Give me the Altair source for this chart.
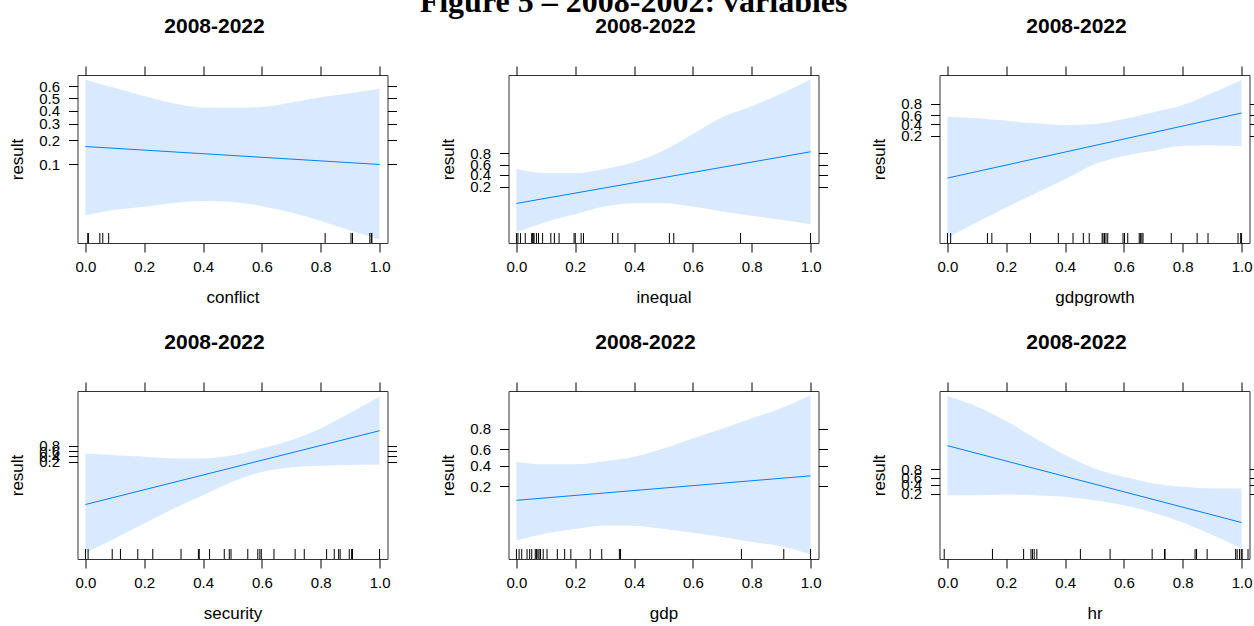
import math
import pandas as pd
import altair as alt

# ---------------- data ----------------
x_band = [0.0, 0.1, 0.2, 0.3, 0.4, 0.5, 0.6, 0.7, 0.8, 0.9, 1.0]
x_fit = [0.0, 1.0]
x_ticks = [0.0, 0.2, 0.4, 0.6, 0.8, 1.0]

conflict_lower = [0.020, 0.024, 0.0266, 0.030, 0.032, 0.031, 0.027, 0.022, 0.0166, 0.0122, 0.0091]
conflict_upper = [0.65, 0.585, 0.52, 0.458, 0.426, 0.423, 0.43, 0.467, 0.51, 0.544, 0.58]
conflict_fit = [0.168, 0.100]
conflict_rug = [0.008, 0.010, 0.049, 0.059, 0.079, 0.815, 0.903, 0.908, 0.967, 0.972, 0.974]

inequal_lower = [0.0058, 0.0138, 0.0258, 0.047, 0.061, 0.061, 0.047, 0.032, 0.0225, 0.0163, 0.0114]
inequal_upper = [0.52, 0.435, 0.435, 0.52, 0.65, 0.83, 0.95, 0.987, 0.9946, 0.9981, 0.9994]
inequal_fit = [0.060, 0.816]
inequal_rug = [0.0, 0.005, 0.014, 0.03, 0.052, 0.054, 0.057, 0.060, 0.068, 0.075, 0.089, 0.117,
               0.129, 0.145, 0.196, 0.200, 0.220, 0.228, 0.327, 0.345, 0.520, 0.535, 0.762, 1.0]

gdpgrowth_lower = [3.7e-5, 1.4e-4, 5.1e-4, 0.00174, 0.0058, 0.021, 0.042, 0.064, 0.095, 0.10, 0.091]
gdpgrowth_upper = [0.565, 0.53, 0.478, 0.423, 0.387, 0.408, 0.515, 0.655, 0.78, 0.91, 0.969]
gdpgrowth_fit = [0.0064, 0.641]
gdpgrowth_rug = [0.0, 0.011, 0.136, 0.151, 0.282, 0.377, 0.427, 0.462, 0.482, 0.526, 0.529, 0.534,
                 0.539, 0.545, 0.597, 0.602, 0.613, 0.652, 0.656, 0.661, 0.665, 0.761, 0.849, 0.886,
                 0.988, 0.997, 1.0]

security_lower = [3.5e-8, 4.3e-7, 5.8e-6, 7.8e-5, 7.8e-4, 0.0078, 0.042, 0.086, 0.111, 0.124, 0.137]
security_upper = [0.517, 0.443, 0.373, 0.31, 0.31, 0.44, 0.72, 0.915, 0.9878, 0.99918, 0.99995]
security_fit = [1.55e-4, 0.982]
security_rug = [0.0, 0.009, 0.091, 0.119, 0.178, 0.229, 0.325, 0.384, 0.387, 0.422, 0.472, 0.489,
                0.495, 0.552, 0.586, 0.593, 0.598, 0.641, 0.713, 0.744, 0.82, 0.846, 0.861, 0.866,
                0.897, 0.905, 0.908, 1.0]

gdp_lower = [0.018, 0.025, 0.031, 0.036, 0.036, 0.031, 0.026, 0.0212, 0.0168, 0.0137, 0.0092]
gdp_upper = [0.448, 0.42, 0.42, 0.457, 0.51, 0.608, 0.716, 0.80, 0.869, 0.915, 0.952]
gdp_fit = [0.113, 0.293]
gdp_rug = [0.0, 0.009, 0.018, 0.036, 0.045, 0.052, 0.064, 0.068, 0.073, 0.077, 0.082, 0.091,
           0.104, 0.139, 0.164, 0.185, 0.251, 0.29, 0.35, 0.354, 0.765, 0.909, 1.0]

hr_lower = [0.172, 0.172, 0.182, 0.172, 0.146, 0.105, 0.062, 0.027, 0.0091, 0.0022, 0.00048]
hr_upper = [0.99994, 0.9998, 0.99895, 0.9925, 0.952, 0.813, 0.625, 0.44, 0.348, 0.307, 0.307]
hr_fit = [0.983, 0.0091]
hr_rug = [-0.011, 0.153, 0.259, 0.284, 0.289, 0.295, 0.304, 0.452, 0.553, 0.696, 0.738, 0.740,
          0.842, 0.847, 0.883, 0.980, 0.985, 0.993, 0.999, 1.002, 1.022]

ticks_a = [0.1, 0.2, 0.3, 0.4, 0.5, 0.6]
ticks_b = [0.2, 0.4, 0.6, 0.8]

# y-axis limits on the logit scale, per panel
lim_conflict = [-4.81, 0.78]
lim_inequal = [-6.0, 7.79]
lim_gdpgrowth = [-10.66, 3.87]
lim_security = [-18.2, 10.87]
lim_gdp = [-4.89, 3.21]
lim_hr = [-8.84, 10.28]

panel_title = "2008-2022"
figure_title = "Figure 5 \u2013 2008-2002: variables"

# ---------------- styling ----------------
W, H = 310, 168
BAND = "#d9eaff"
LINE = "#0080ff"
FONT = "Liberation Sans"


def logit(p):
    return math.log(p / (1 - p))


def panel(name, lower, upper, fit, rug, yticks, ylim):
    band_df = pd.DataFrame({"x": x_band, "lower": lower, "upper": upper})
    fit_df = pd.DataFrame({"x": x_fit, "fit": fit})
    rug_df = pd.DataFrame({"x": rug})
    xs = alt.Scale(domain=[-0.027, 1.027], nice=False, zero=False)
    ys = alt.Scale(domain=ylim, nice=False, zero=False)
    yvals = [logit(p) for p in yticks]
    lab = "format(1/(1+exp(-datum.value)), '.1f')"

    band = alt.Chart(band_df).transform_calculate(
        lo="log(datum.lower/(1-datum.lower))",
        hi="log(datum.upper/(1-datum.upper))",
    ).mark_area(color=BAND, opacity=1, interpolate="monotone").encode(
        x=alt.X("x:Q", scale=xs, axis=alt.Axis(
            orient="bottom", values=x_ticks, format=".1f", title=name,
            labelPadding=7, titlePadding=15)),
        y=alt.Y("lo:Q", scale=ys, axis=alt.Axis(
            orient="left", values=yvals, labelExpr=lab, title="result",
            labelOverlap=False, labelPadding=9, titlePadding=12.5)),
        y2="hi:Q",
    )
    line = alt.Chart(fit_df).transform_calculate(
        f="log(datum.fit/(1-datum.fit))"
    ).mark_line(color=LINE, strokeWidth=1).encode(
        x=alt.X("x:Q", scale=xs, axis=alt.Axis(orient="top", values=x_ticks, labels=False, title="")),
        y=alt.Y("f:Q", scale=ys, axis=alt.Axis(orient="right", values=yvals, labels=False, title="")),
    )
    rugs = alt.Chart(rug_df).mark_rule(color="black", strokeWidth=1).encode(
        x=alt.X("x:Q", scale=xs, axis=None),
        y=alt.value(H - 10),
        y2=alt.value(H),
    )
    return alt.layer(band, line, rugs).resolve_axis(
        x="independent", y="independent"
    ).properties(
        width=W, height=H,
        title=alt.TitleParams(panel_title, font=FONT, fontSize=21, fontWeight="bold",
                              anchor="middle", dx=-18, baseline="alphabetic", offset=12,
                              color="black"),
    )


panels = [
    panel("conflict", conflict_lower, conflict_upper, conflict_fit, conflict_rug, ticks_a, lim_conflict),
    panel("inequal", inequal_lower, inequal_upper, inequal_fit, inequal_rug, ticks_b, lim_inequal),
    panel("gdpgrowth", gdpgrowth_lower, gdpgrowth_upper, gdpgrowth_fit, gdpgrowth_rug, ticks_b, lim_gdpgrowth),
    panel("security", security_lower, security_upper, security_fit, security_rug, ticks_b, lim_security),
    panel("gdp", gdp_lower, gdp_upper, gdp_fit, gdp_rug, ticks_b, lim_gdp),
    panel("hr", hr_lower, hr_upper, hr_fit, hr_rug, ticks_b, lim_hr),
]

chart = alt.concat(
    *panels, columns=3, spacing={"row": 148, "column": 121}, bounds="flush",
    title=alt.TitleParams(figure_title, font="Liberation Serif", fontSize=32, fontWeight="bold",
                          anchor="middle", color="black", dy=8),
).properties(
    padding={"left": 7.5, "top": -14, "right": -6, "bottom": 0},
    background="white",
).configure_view(
    stroke="#333333", strokeWidth=1
).configure_axis(
    grid=False, domain=False, tickSize=9, tickColor="black", tickWidth=1,
    labelFont=FONT, labelFontSize=15, labelColor="black",
    titleFont=FONT, titleFontSize=17, titleFontWeight="normal", titleColor="black",
    labelFlush=False, labelBound=False,
)

chart.save("out.html", embed_options={"renderer": "svg", "actions": False})
